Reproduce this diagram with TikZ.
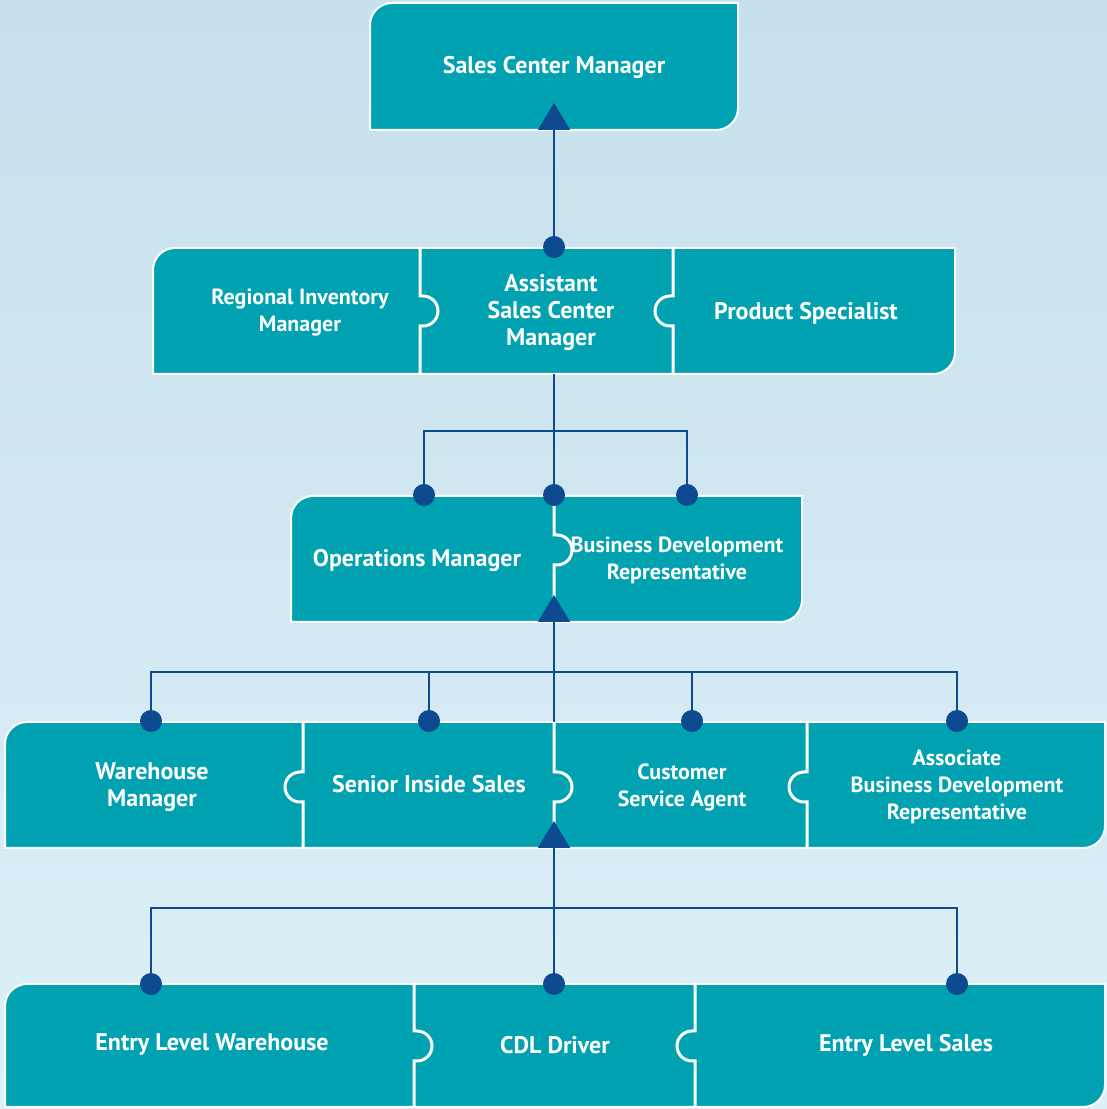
\documentclass[tikz,border=0pt]{standalone}
\usepackage{fontspec}
\setmainfont{PT Sans}
\usetikzlibrary{arrows.meta}
\definecolor{teal}{HTML}{00A2B2}
\definecolor{navy}{HTML}{0D4A90}
\definecolor{bgtop}{HTML}{C6E0ED}
\definecolor{bgbot}{HTML}{DDF0F7}
\tikzset{
  rowshape/.style={fill=teal, draw=white, line width=2pt},
  divider/.style={draw=white, line width=3pt},
  label/.style={text=white, align=center, font=\bfseries\fontsize{24}{27}\selectfont, inner sep=0pt},
  smalllabel/.style={label, font=\bfseries\fontsize{22}{27}\selectfont},
  conn/.style={draw=navy, line width=2pt},
  tip/.style={-{Triangle[width=32pt,length=27pt]}},
  dot/.style={fill=navy},
}
% row shape: top-left and bottom-right corners rounded
\newcommand{\puzzlerow}[4]{% x1, x2, ybottom, ytop
  \path[rowshape] (#1,#3) -- (#1,#4-22) arc[start angle=180,end angle=90,radius=22]
    -- (#2,#4) -- (#2,#3+22) arc[start angle=0,end angle=-90,radius=22] -- cycle;}
% divider with knob bulging right
\newcommand{\knobright}[4]{% x, ybottom, ytop, ycentre
  \path[divider] (#1,#3) -- (#1,#4+15) -- (#1+3,#4+15)
    arc[start angle=90,end angle=-90,radius=15] -- (#1,#4-15) -- (#1,#2);}
\newcommand{\knobleft}[4]{%
  \path[divider] (#1,#3) -- (#1,#4+15) -- (#1-3,#4+15)
    arc[start angle=90,end angle=270,radius=15] -- (#1,#4-15) -- (#1,#2);}
\begin{document}
\begin{tikzpicture}[x=1pt,y=1pt]
\useasboundingbox (0,0) rectangle (1107,1109);
\shade[top color=bgtop, bottom color=bgbot] (0,0) rectangle (1107,1109);

% rows
\puzzlerow{370}{738}{979}{1106}
\puzzlerow{153}{955}{735}{861}
\puzzlerow{291}{802}{487}{613}
\puzzlerow{5}{1105}{261}{387}
\puzzlerow{5}{1105}{2}{125}

% dividers
\knobright{420}{735}{861}{798}
\knobleft{673}{735}{861}{798}
\knobright{554}{487}{613}{559}
\knobleft{303}{261}{387}{322}
\knobright{554}{261}{387}{322}
\knobleft{807}{261}{387}{322}
\knobright{414}{2}{125}{63}
\knobleft{695}{2}{125}{63}

% labels
\node[label] (scm) at (554,1042) {Sales Center Manager};
\node[smalllabel] (ri) at (300,796) {Regional Inventory\\Manager};
\node[label] (asst) at (551,796) {Assistant\\Sales Center\\Manager};
\node[label] (ps) at (806,796) {Product Specialist};
\node[label] (ops) at (417,549) {Operations Manager};
\node[smalllabel] (bdr) at (677,549) {Business Development\\Representative};
\node[label] (wm) at (152,322) {Warehouse\\Manager};
\node[label] (sis) at (429,325) {Senior Inside Sales};
\node[smalllabel] (csa) at (682,322) {Customer\\Service Agent};
\node[smalllabel] (abdr) at (957,322) {Associate\\Business Development\\Representative};
\node[label] (elw) at (212,64) {Entry Level Warehouse};
\node[label] (cdl) at (555,64) {CDL Driver};
\node[label] (els) at (906,64) {Entry Level Sales};

% connector points
\coordinate (apex1) at (554,1006);
\coordinate (d-asst) at (554,862);
\coordinate (asst-bot) at (554,735);
\coordinate (j1) at (554,678);
\coordinate (d-ops) at (424,614);
\coordinate (d-mid) at (554,614);
\coordinate (d-bdr) at (687,614);
\coordinate (apex2) at (554,514);
\coordinate (j2) at (554,437);
\coordinate (r3top) at (554,387);
\coordinate (d-wm) at (151,388);
\coordinate (d-sis) at (429,388);
\coordinate (d-csa) at (692,388);
\coordinate (d-abdr) at (957,388);
\coordinate (apex3) at (554,288);
\coordinate (j3) at (554,201);
\coordinate (d-elw) at (151,125);
\coordinate (d-cdl) at (554,125);
\coordinate (d-els) at (957,125);

% connectors
\draw[conn,tip] (d-asst) -- (apex1);
\draw[conn] (asst-bot) -- (d-mid);
\draw[conn] (d-ops) |- (j1) -| (d-bdr);
\draw[conn,tip] (r3top) -- (apex2);
\draw[conn] (d-wm) |- (j2) -| (d-abdr);
\draw[conn] (d-sis) -- (d-sis |- j2);
\draw[conn] (d-csa) -- (d-csa |- j2);
\draw[conn,tip] (d-cdl) -- (apex3);
\draw[conn] (d-elw) |- (j3) -| (d-els);

% dots
\foreach \p in {d-asst,d-ops,d-mid,d-bdr,d-wm,d-sis,d-csa,d-abdr,d-elw,d-cdl,d-els}
  \fill[dot] (\p) circle (11);
\end{tikzpicture}
\end{document}
